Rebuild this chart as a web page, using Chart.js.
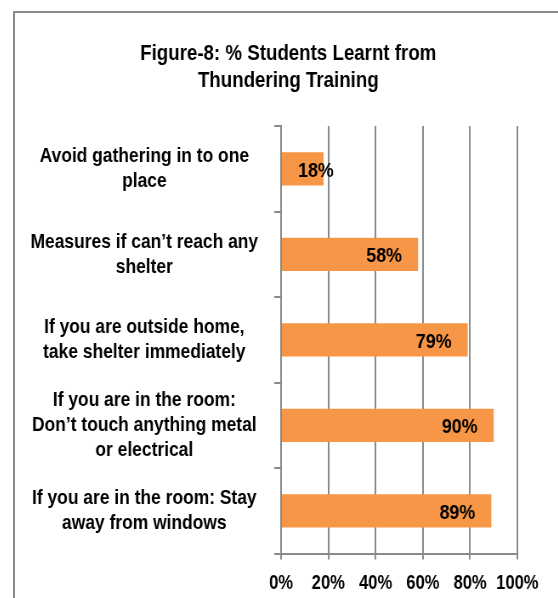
<!DOCTYPE html>
<html>
<head>
<meta charset="utf-8">
<script src="https://cdn.jsdelivr.net/npm/chart.js@4.4.1/dist/chart.umd.min.js"></script>
<style>
  html, body { margin: 0; padding: 0; background: #fff; overflow: hidden; }
  #marco {
    position: absolute; left: 13px; top: 11px; width: 545px; height: 587px;
    border-left: 2px solid #8a8a8a; border-top: 2px solid #8a8a8a;
    overflow: hidden;
  }
  /* texto estrecho tipo Arial Narrow: se comprime el lienzo en horizontal */
  #grafica { display: block; transform: scaleX(0.85); transform-origin: 0 0; }
</style>
</head>
<body>
<div id="marco"><canvas id="grafica" width="640" height="585"></canvas></div>
<script>
const titulo = ['Figure-8: % Students Learnt from', 'Thundering Training']
const categorias = [
    ['Avoid gathering in to one', 'place'],
    ['Measures if can’t reach any', 'shelter'],
    ['If you are outside home,', 'take shelter immediately'],
    ['If you are in the room:', 'Don’t touch anything metal', 'or electrical'],
    ['If you are in the room: Stay', 'away from windows']
]
const porcentajes = [18, 58, 79, 90, 89]
const ticksX = [0, 20, 40, 60, 80, 100]

const fuente = "'Liberation Sans', Arial, sans-serif"
const gris = '#8a8a8a'

Chart.defaults.font.family = fuente
Chart.defaults.font.weight = 'bold'
Chart.defaults.color = '#000'

// etiquetas de datos al final de la barra, como Excel
const etiquetasBarras = {
    id : 'etiquetasBarras',
    afterDatasetsDraw(chart) {
        const ctx = chart.ctx
        const meta = chart.getDatasetMeta(0)
        ctx.save()
        ctx.font = `bold 21px ${fuente}`
        ctx.fillStyle = '#000'
        ctx.textBaseline = 'middle'
        ctx.textAlign = 'left'
        meta.data.forEach((barra, i) => {
            const texto = porcentajes[i] + '%'
            const ancho = ctx.measureText(texto).width
            const x = Math.max(barra.x - 19 - ancho, barra.base + 19)
            ctx.fillText(texto, x, barra.y + 2)
        })
        ctx.restore()
    }
}

// el titulo va un poco corrido a la derecha
const moverTitulo = {
    id : 'moverTitulo',
    afterLayout(chart) {
        if (chart.titleBlock) {
            chart.titleBlock.left += 26
            chart.titleBlock.right += 26
        }
    }
}

const canvas = document.getElementById('grafica')
const context = canvas.getContext('2d')

const grafica = new Chart(context, {
    type : 'bar',
    data : {
        labels : categorias,
        datasets : [
            {
                label : '% Students',
                data : porcentajes,
                backgroundColor : '#f79646',
                categoryPercentage : 1,
                barPercentage : 0.39
            }
        ]
    },
    options : {
        indexAxis : 'y',
        responsive : false,
        animation : false,
        layout : {
            padding : { top : 27, right : 49, left : 0, bottom : -9 }
        },
        plugins : {
            legend : { display : false },
            tooltip : { enabled : false },
            title : {
                display : true,
                text : titulo,
                font : { size : 22, weight : 'bold', lineHeight : 1.23 },
                color : '#000',
                padding : { top : 0, bottom : 32 }
            }
        },
        scales : {
            x : {
                min : 0,
                max : 100,
                afterBuildTicks : (eje) => {
                    eje.ticks = ticksX.map(v => ({ value : v }))
                },
                ticks : {
                    callback : (v) => v + '%',
                    font : { size : 19.5 },
                    padding : 12,
                    maxRotation : 0
                },
                grid : {
                    color : gris,
                    lineWidth : 2,
                    tickLength : 6
                },
                border : { color : gris, width : 2 }
            },
            y : {
                afterFit : (eje) => { eje.width = 313 },
                ticks : {
                    font : { size : 20.5, lineHeight : 1.22 },
                    crossAlign : 'center',
                    padding : 19
                },
                grid : {
                    drawOnChartArea : false,
                    color : gris,
                    lineWidth : 2,
                    tickLength : 8,
                    offset : true
                },
                border : { color : gris, width : 2 }
            }
        }
    },
    plugins : [etiquetasBarras, moverTitulo]
})
</script>
</body>
</html>
